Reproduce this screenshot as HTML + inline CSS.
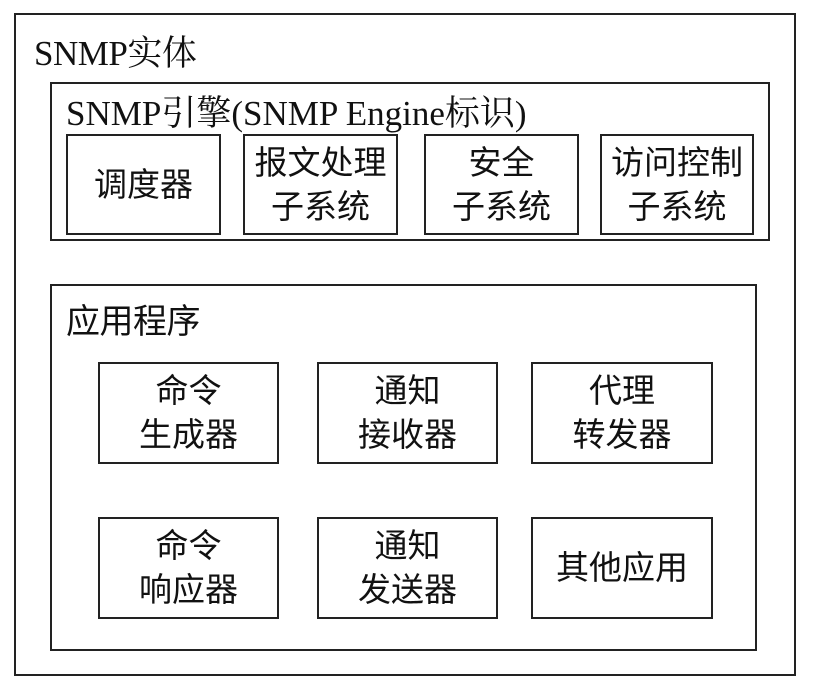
<!DOCTYPE html>
<html><head><meta charset="utf-8"><style>
body{margin:0;width:816px;height:690px;background:#fff;position:relative;overflow:hidden;font-family:"Liberation Serif","Noto Serif CJK SC","Noto Sans CJK SC",serif;color:#111}
.b{position:absolute;border:2px solid #222;box-sizing:border-box}
.c{position:absolute;border:2px solid #222;box-sizing:border-box;display:flex;align-items:center;justify-content:center;text-align:center;font-family:"Liberation Sans","Noto Sans CJK SC",sans-serif;font-size:33px;line-height:44px}
.t{position:absolute;font-size:35px;white-space:nowrap;letter-spacing:-0.5px}
</style></head><body>
<div class="b" style="left:14px;top:13px;width:782px;height:663px"></div>
<div class="t" style="left:34px;top:26px">SNMP实体</div>
<div class="b" style="left:50px;top:82px;width:720px;height:159px"></div>
<div class="t" style="left:66px;top:86px;font-size:35px;letter-spacing:0">SNMP引擎(SNMP Engine标识)</div>
<div class="c" style="left:66px;top:134px;width:155px;height:101px">调度器</div>
<div class="c" style="left:243px;top:134px;width:155px;height:101px">报文处理<br>子系统</div>
<div class="c" style="left:424px;top:134px;width:155px;height:101px">安全<br>子系统</div>
<div class="c" style="left:600px;top:134px;width:154px;height:101px">访问控制<br>子系统</div>
<div class="b" style="left:50px;top:284px;width:707px;height:367px"></div>
<div class="t" style="left:66px;top:294px;font-size:34px;font-family:'Liberation Sans','Noto Sans CJK SC',sans-serif">应用程序</div>
<div class="c" style="left:98px;top:362px;width:181px;height:102px">命令<br>生成器</div>
<div class="c" style="left:317px;top:362px;width:181px;height:102px">通知<br>接收器</div>
<div class="c" style="left:531px;top:362px;width:182px;height:102px">代理<br>转发器</div>
<div class="c" style="left:98px;top:517px;width:181px;height:102px">命令<br>响应器</div>
<div class="c" style="left:317px;top:517px;width:181px;height:102px">通知<br>发送器</div>
<div class="c" style="left:531px;top:517px;width:182px;height:102px">其他应用</div>
</body></html>
